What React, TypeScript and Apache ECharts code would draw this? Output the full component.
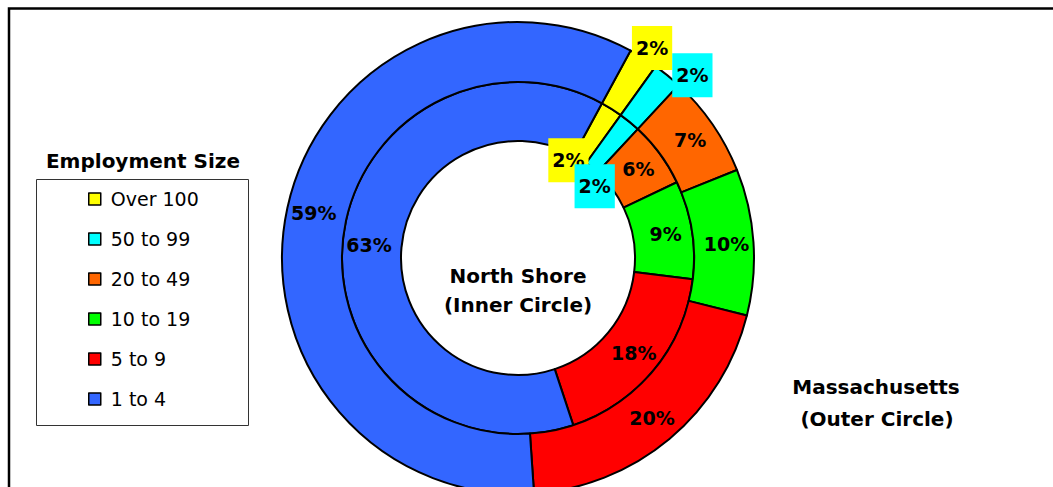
import React, { useEffect, useRef } from 'react';
import * as echarts from 'echarts';

const categories = ['Over 100', '50 to 99', '20 to 49', '10 to 19', '5 to 9', '1 to 4'];
const northShoreValues = [2, 2, 6, 9, 18, 63];
const massachusettsValues = [2, 2, 7, 10, 20, 59];
const sliceColors = ['#FFFF00', '#00FFFF', '#FF6600', '#00FF00', '#FF0000', '#3366FF'];

const legendTitle = 'Employment Size';
const innerTitle = ['North Shore', '(Inner Circle)'];
const outerTitle = ['Massachusetts', '(Outer Circle)'];

const FONT = 'DejaVu Sans';

// label nudges (px) for the thin slices whose labels sit away from the ring
const innerNudge: Record<number, [number, number]> = { 0: [-29, 29], 1: [-18, 44] };
const outerNudge: Record<number, [number, number]> = { 0: [23, -33], 1: [42, -21] };
const boxedLabels = 2; // first two categories get filled label boxes

function buildData(values: number[]) {
  return categories.map((name, i) => {
    const item: any = {
      name,
      value: values[i],
      itemStyle: { color: sliceColors[i] },
    };
    if (i < boxedLabels) {
      item.label = {
        backgroundColor: sliceColors[i],
        padding: [12, 4, 12, 4],
      };
    }
    return item;
  });
}

function textEl(text: string, x: number, y: number) {
  return {
    type: 'text',
    x,
    y,
    style: {
      text,
      fontFamily: FONT,
      fontWeight: 'bold',
      fontSize: 20,
      fill: '#000',
      textAlign: 'center',
      textVerticalAlign: 'middle',
    },
  };
}

export default function App() {
  const ref = useRef<HTMLDivElement>(null);

  useEffect(() => {
    if (!ref.current) return;
    const chart = echarts.init(ref.current, null, { renderer: 'svg' });
    const center = [518, 258];
    const baseLabel = {
      show: true,
      position: 'inside',
      formatter: '{c}%',
      color: '#000',
      fontFamily: FONT,
      fontWeight: 'bold',
      fontSize: 19,
      lineHeight: 20,
    };
    const commonSeries = {
      type: 'pie',
      center,
      startAngle: 61.5,
      clockwise: true,
      silent: true,
      avoidLabelOverlap: false,
      labelLine: { show: false },
      itemStyle: { borderColor: '#000', borderWidth: 2 },
      emphasis: { disabled: true },
    };
    chart.setOption({
      animation: false,
      backgroundColor: '#fff',
      legend: {
        orient: 'vertical',
        left: 83,
        top: 184,
        data: categories,
        icon: 'rect',
        itemWidth: 12,
        itemHeight: 12,
        itemGap: 20,
        selectedMode: false,
        textStyle: {
          fontFamily: FONT,
          fontSize: 19,
          color: '#000',
          lineHeight: 20,
          padding: [0, 0, 0, 5],
        },
        itemStyle: { borderColor: '#000', borderWidth: 1.5 },
      },
      series: [
        {
          ...commonSeries,
          name: 'North Shore',
          radius: [117, 176],
          label: baseLabel,
          labelLayout: (p: any) => {
            const n = innerNudge[p.dataIndex];
            return n ? { dx: n[0], dy: n[1] } : {};
          },
          data: buildData(northShoreValues),
        },
        {
          ...commonSeries,
          name: 'Massachusetts',
          radius: [176, 236],
          label: baseLabel,
          labelLayout: (p: any) => {
            const n = outerNudge[p.dataIndex];
            return n ? { dx: n[0], dy: n[1] } : {};
          },
          data: buildData(massachusettsValues),
        },
      ],
      graphic: [
        {
          type: 'rect',
          z: 100,
          shape: { x: 9, y: 8.5, width: 1200, height: 700 },
          style: { fill: 'none', stroke: '#000', lineWidth: 2.5 },
          silent: true,
        },
        {
          type: 'rect',
          shape: { x: 36.5, y: 179.5, width: 212, height: 246 },
          style: { fill: 'none', stroke: '#333', lineWidth: 1 },
          silent: true,
        },
        textEl(legendTitle, 143, 161),
        textEl(innerTitle[0], 518, 276),
        textEl(innerTitle[1], 518, 305),
        textEl(outerTitle[0], 876, 387),
        textEl(outerTitle[1], 877, 419),
      ],
    });
    return () => chart.dispose();
  }, []);

  return (
    <div
      ref={ref}
      style={{ position: 'fixed', left: 0, top: 0, width: 1053, height: 487 }}
    />
  );
}
